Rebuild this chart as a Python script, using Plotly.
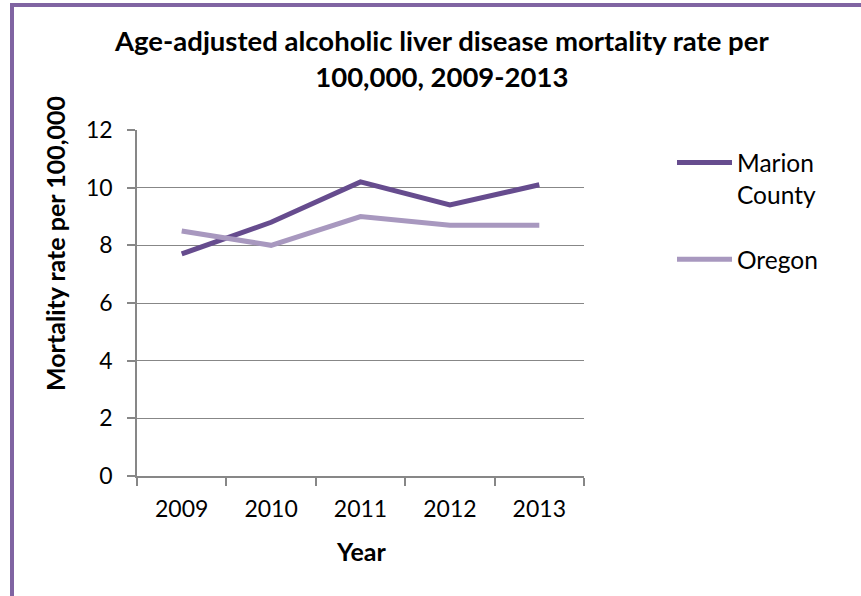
import plotly.graph_objects as go

years = ["2009", "2010", "2011", "2012", "2013"]
marion = [7.7, 8.8, 10.2, 9.4, 10.1]
oregon = [8.5, 8.0, 9.0, 8.7, 8.7]
series_names = ["Marion<br>County", "Oregon"]
y_ticks = [0, 2, 4, 6, 8, 10, 12]

W, H = 861, 596
L, R, T, B = 137, 584, 130, 476
FONT = "Lato, Carlito, 'Open Sans', sans-serif"

def px(x):
    return (x - L) / (R - L)

def py(y):
    return (B - y) / (B - T)

fig = go.Figure()
fig.add_trace(go.Scatter(x=years, y=marion, mode="lines", name=series_names[0],
                         legendgroup="a",
                         line=dict(color="#664C8E", width=5)))
fig.add_trace(go.Scatter(x=years, y=oregon, mode="lines", name=series_names[1],
                         legendgroup="b",
                         line=dict(color="#A898BF", width=5)))

fig.update_layout(
    width=W, height=H,
    margin=dict(l=L, r=W - R, t=T, b=H - B),
    paper_bgcolor="white", plot_bgcolor="white",
    font=dict(family=FONT, size=23, color="#000000"),
    showlegend=True,
    legend=dict(x=px(672), y=py(140), xanchor="left", yanchor="top",
                font=dict(size=24.5), valign="top", tracegroupgap=30,
                itemwidth=55, bgcolor="rgba(0,0,0,0)"),
    xaxis=dict(type="category", range=[-0.5, 4.5], tickson="boundaries",
               ticks="outside", ticklen=8, tickcolor="#878787", tickwidth=1.5,
               showline=True, linecolor="#878787", linewidth=1.5,
               showgrid=False, zeroline=False, fixedrange=True,
               ticklabelstandoff=12, tickfont=dict(size=23)),
    yaxis=dict(range=[0, 12], tickvals=y_ticks, ticks="outside", ticklen=8,
               tickcolor="#878787", tickwidth=1.5,
               showline=True, linecolor="#878787", linewidth=1.5,
               showgrid=True, gridcolor="#878787", gridwidth=1,
               zeroline=False, ticklabelstandoff=10, tickfont=dict(size=23)),
    annotations=[
        dict(text="<b>Age-adjusted alcoholic liver disease mortality rate per<br>100,000, 2009-2013</b>",
             xref="paper", yref="paper", x=px(441), y=py(58),
             xanchor="center", yanchor="middle", showarrow=False,
             font=dict(size=27.5, family=FONT)),
        dict(text="<b>Mortality rate per 100,000</b>", textangle=-90,
             xref="paper", yref="paper", x=px(55), y=py(244),
             xanchor="center", yanchor="middle", showarrow=False,
             font=dict(size=25, family=FONT)),
        dict(text="<b>Year</b>",
             xref="paper", yref="paper", x=px(361), y=py(551),
             xanchor="center", yanchor="middle", showarrow=False,
             font=dict(size=25, family=FONT)),
    ],
    shapes=[
        dict(type="path", xref="paper", yref="paper",
             path=f"M {px(12)} {py(620)} L {px(12)} {py(5)} L {px(880)} {py(5)}",
             line=dict(color="#8064A2", width=4)),
    ],
)

fig.write_html("out.html", config={"displayModeBar": False},
               post_script="document.body.style.margin='0';document.body.style.overflow='hidden';")
